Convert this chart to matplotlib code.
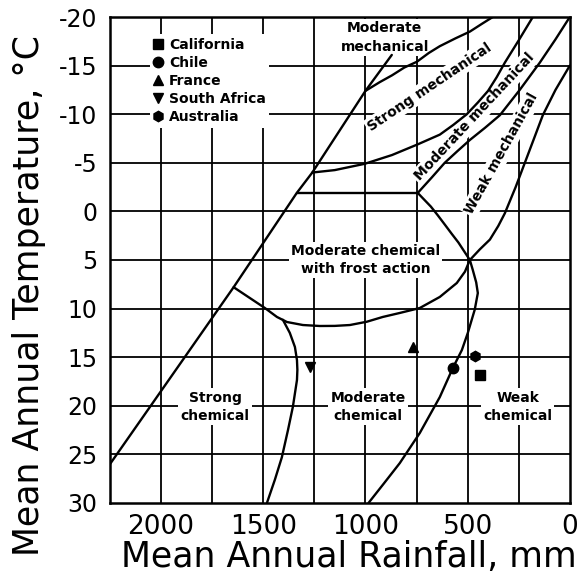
import matplotlib
matplotlib.use('Agg')
import matplotlib.pyplot as plt

plt.rcParams['font.family'] = ['DejaVu Sans']
plt.rcParams['axes.unicode_minus'] = False

# ---------------- data ----------------
x_tick_values = [2000, 1500, 1000, 500, 0]
y_tick_values = [-20, -15, -10, -5, 0, 5, 10, 15, 20, 25, 30]
grid_rain = [2000, 1750, 1500, 1250, 1000, 750, 500, 250]
grid_temp = [-15, -10, -5, 0, 5, 10, 15, 20, 25]

# main diagonal boundary (rainfall mm, temperature C)
diag_rain = [2250, 1645, 1336, 1260, 1000, 871]
diag_temp = [26.0, 7.8, -1.9, -4.0, -12.4, -16.1]

# -2 C horizontal boundary
frost_top_rain = [1336, 744]
frost_top_temp = [-1.9, -1.9]

# strong mechanical upper curve
smu_rain = [1000, 930, 870, 810, 748, 690, 636, 560, 489, 430, 377]
smu_temp = [-12.4, -13.3, -14.0, -14.8, -15.4, -16.3, -17.0, -17.8, -18.5, -19.3, -20.0]

# strong mechanical lower curve
sml_rain = [1260, 1150, 1003, 870, 744, 636, 570, 504, 450, 400, 358, 318, 250, 181]
sml_temp = [-4.0, -4.25, -4.9, -5.8, -6.9, -7.9, -8.9, -10.0, -11.2, -12.4, -13.8, -15.3, -17.6, -20.0]

# moderate / weak mechanical boundary
mwm_rain = [744, 675, 612, 550, 489, 415, 342, 245, 147, 70, 0]
mwm_temp = [-1.9, -3.5, -5.0, -6.2, -7.35, -8.6, -9.9, -12.5, -15.3, -17.7, -20.0]

# weak mechanical right boundary
wmr_rain = [489, 440, 391, 350, 318, 265, 220, 175, 132, 70, 0]
wmr_temp = [5.0, 3.9, 2.9, 1.5, 0.2, -2.5, -5.0, -7.5, -9.9, -12.5, -15.0]

# frost-action region, upper right arc
fra_rain = [744, 712, 680, 646, 610, 578, 545, 517, 489]
fra_temp = [-1.9, -1.2, -0.5, 0.4, 1.4, 2.3, 3.2, 4.1, 5.0]

# frost-action region, bottom arc
frb_rain = [1645, 1492, 1433, 1384, 1306, 1223, 1150, 1076, 993, 915, 832, 734, 636, 553, 513, 489]
frb_temp = [7.8, 9.94, 10.86, 11.38, 11.69, 11.79, 11.78, 11.69, 11.35, 10.86, 10.45, 9.94, 8.8, 7.37, 6.2, 5.0]

# strong chemical right boundary
scr_rain = [1404, 1370, 1345, 1335, 1333, 1335, 1355, 1379, 1409, 1443, 1482]
scr_temp = [11.15, 12.5, 13.95, 15.3, 16.3, 17.35, 20.1, 22.5, 25.3, 27.6, 30.0]

# weak chemical boundary
wcb_rain = [985, 910, 832, 734, 636, 572, 528, 499, 465, 450, 458, 475, 489]
wcb_temp = [30.0, 28.0, 25.9, 22.8, 19.1, 16.1, 14.26, 12.5, 10.1, 8.4, 7.3, 6.0, 5.0]

# sites
site_names = ['California', 'Chile', 'France', 'South Africa', 'Australia']
site_rain = [440, 572, 768, 1272, 465]
site_temp = [16.8, 16.1, 14.0, 16.0, 14.9]
site_markers = ['s', 'o', '^', 'v', 'h']

# region labels
region_text = ['Moderate\nmechanical', 'Strong mechanical', 'Moderate mechanical',
               'Weak mechanical', 'Moderate chemical\nwith frost action',
               'Strong\nchemical', 'Moderate\nchemical', 'Weak\nchemical']
region_rain = [905, 685, 465, 333, 998, 1736, 988, 254]
region_temp = [-17.9, -12.8, -9.7, -6.0, 5.0, 20.1, 20.1, 20.1]
region_rot = [0, 34, 47, 61, 0, 0, 0, 0]

# ---------------- figure ----------------
fig = plt.figure(figsize=(5.85, 5.79), dpi=100)
ax = fig.add_axes([0.188, 0.1313, 0.786, 0.8393])
ax.set_xlim(2250, 0)
ax.set_ylim(30, -20)

for g in grid_rain:
    ax.axvline(g, color='black', lw=1.3, zorder=1)
for g in grid_temp:
    ax.axhline(g, color='black', lw=1.3, zorder=1)

line_kw = dict(color='black', lw=1.7, zorder=3, solid_capstyle='round', solid_joinstyle='round')
for xs, ys in [(diag_rain, diag_temp), (frost_top_rain, frost_top_temp),
               (smu_rain, smu_temp), (sml_rain, sml_temp), (mwm_rain, mwm_temp),
               (wmr_rain, wmr_temp), (fra_rain, fra_temp), (frb_rain, frb_temp),
               (scr_rain, scr_temp), (wcb_rain, wcb_temp)]:
    ax.plot(xs, ys, **line_kw)

for name, r, t, m in zip(site_names, site_rain, site_temp, site_markers):
    ax.plot([r], [t], linestyle='none', marker=m, color='black', markersize=7.5,
            label=name, zorder=4)

for txt, r, t, rot in zip(region_text, region_rain, region_temp, region_rot):
    ax.text(r, t, txt, ha='center', va='center', rotation=rot, rotation_mode='anchor',
            fontsize=10, fontweight='bold', linespacing=1.4, zorder=2.5,
            bbox=dict(facecolor='white', edgecolor='none', pad=1.5))

leg = ax.legend(loc='upper left', bbox_to_anchor=(0.086, 0.965), frameon=True,
                fancybox=False, edgecolor='none', facecolor='white', framealpha=1,
                handlelength=0.7, handletextpad=0.45, labelspacing=0.3,
                borderpad=0.25, borderaxespad=0, prop={'weight': 'bold', 'size': 10})
leg.set_zorder(5)

ax.set_xticks(x_tick_values)
ax.set_xticklabels([str(v) for v in x_tick_values])
ax.set_yticks(y_tick_values)
ax.set_yticklabels([str(v) for v in y_tick_values])
ax.tick_params(axis='x', length=0, pad=8, labelsize=19)
ax.tick_params(axis='y', length=0, pad=9, labelsize=17)
for s in ax.spines.values():
    s.set_linewidth(1.8)
    s.set_zorder(6)

fig.text(349 / 585, 1 - 557 / 579, 'Mean Annual Rainfall, mm', ha='center', va='center',
         fontsize=25)
fig.text(29 / 585, 1 - 295 / 579, 'Mean Annual Temperature, \u00b0C', ha='center',
         va='center', rotation=90, fontsize=25)

fig.savefig('out.png', dpi=100)
